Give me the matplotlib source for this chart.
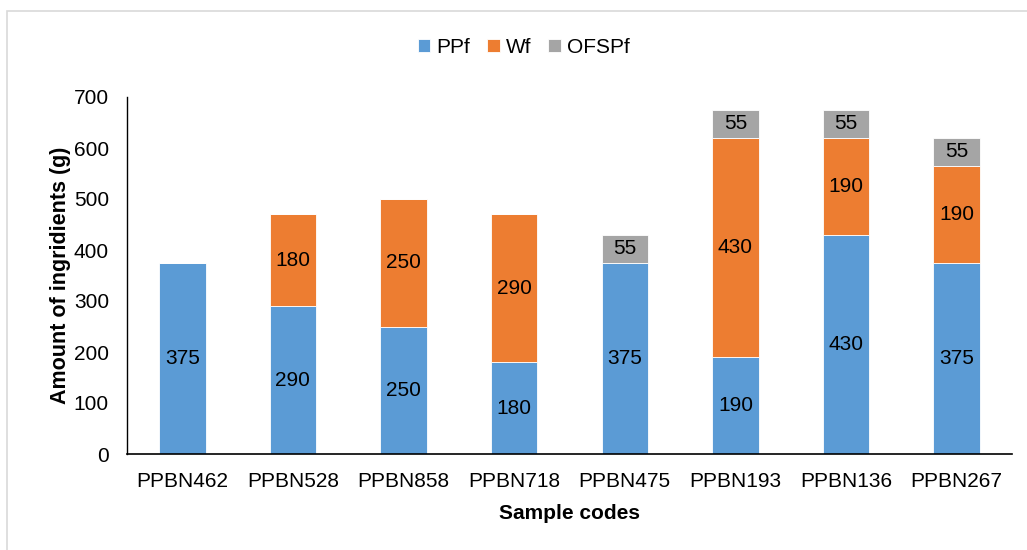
import matplotlib.pyplot as plt
import numpy as np
from matplotlib.patches import Rectangle

plt.rcParams['font.family'] = ['Liberation Sans', 'DejaVu Sans']

samples = ["PPBN462", "PPBN528", "PPBN858", "PPBN718", "PPBN475", "PPBN193", "PPBN136", "PPBN267"]
ppf = [375, 290, 250, 180, 375, 190, 430, 375]
wf = [0, 180, 250, 290, 0, 430, 190, 190]
ofspf = [0, 0, 0, 0, 55, 55, 55, 55]

series = [("PPf", ppf, "#5B9BD5"), ("Wf", wf, "#ED7D31"), ("OFSPf", ofspf, "#A5A5A5")]

fig = plt.figure(figsize=(10.27, 5.5), dpi=100)
fig.patches.append(Rectangle((7 / 1027, -0.1), 1.1, 1 - 11 / 550 + 0.1, transform=fig.transFigure,
                             fill=False, edgecolor="#D9D9D9", linewidth=1.2))
ax = fig.add_axes([127 / 1027, 1 - 454 / 550, (1012 - 127) / 1027, (454 - 97) / 550])

fs = 15
x = np.arange(len(samples))
bottom = np.zeros(len(samples))
for name, vals, col in series:
    vals = np.array(vals)
    ax.bar(x, vals, 0.42, bottom=bottom, color=col, label=name,
           edgecolor="white", linewidth=0.6)
    for xi, b, v in zip(x, bottom, vals):
        if v > 0:
            ax.text(xi, b + v / 2, str(v), ha="center", va="center", fontsize=fs)
    bottom = bottom + vals

ax.set_xlim(-0.5, len(samples) - 0.5)
ax.set_ylim(0, 700)
ax.set_yticks(range(0, 701, 100))
ax.set_xticks(x)
ax.set_xticklabels(samples)
ax.tick_params(axis="both", length=0, labelsize=fs)
ax.tick_params(axis="y", pad=13)
ax.tick_params(axis="x", pad=13)
for s in ["top", "right"]:
    ax.spines[s].set_visible(False)
ax.spines["left"].set_color("black")
ax.spines["bottom"].set_color("black")
ax.spines["left"].set_linewidth(1)
ax.spines["bottom"].set_linewidth(1.2)

ax.set_xlabel("Sample codes", fontsize=fs, fontweight="bold", labelpad=9)
ax.set_ylabel("Amount of ingridients (g)", fontsize=15.5, fontweight="bold", labelpad=2)

fig.legend(loc="center", bbox_to_anchor=(0.51, 1 - 47 / 550), ncol=3, frameon=False,
           fontsize=fs, handlelength=0.6, handleheight=0.6, columnspacing=0.8, handletextpad=0.3)

fig.savefig("out.png", dpi=100)
